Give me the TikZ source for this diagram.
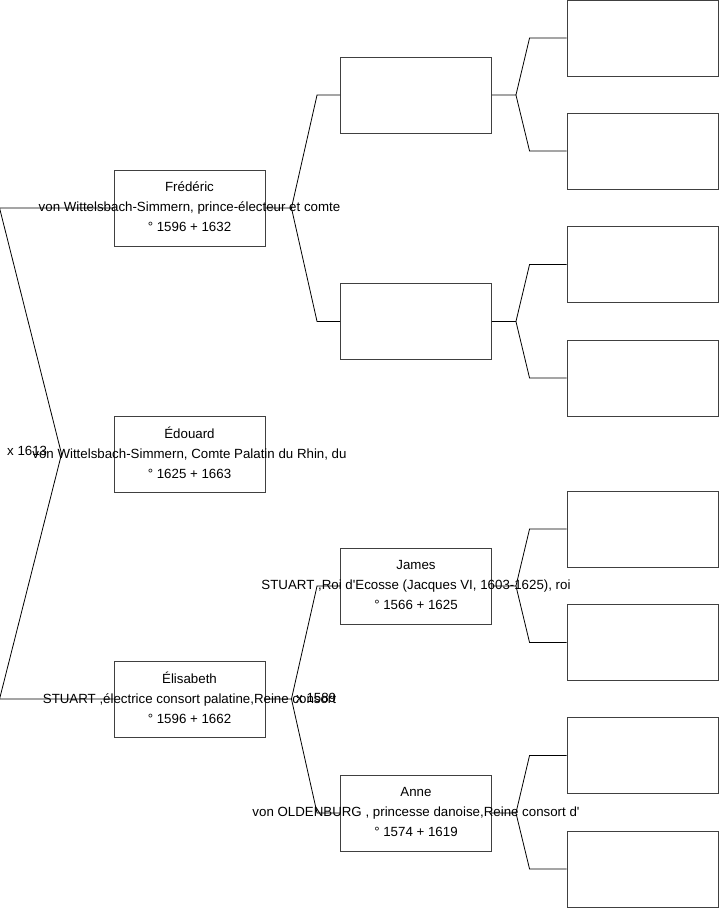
\documentclass[tikz,border=0pt]{standalone}
\usepackage{fontspec}
\setmainfont{Liberation Sans}[Ligatures=TeXOff]
\usetikzlibrary{positioning, calc}

\begin{document}
\begin{tikzpicture}[
		x=1pt, y=-1pt,
		% Styles des cases
		box/.style={draw=black!75, line width=0.9pt, rectangle, minimum width=151pt, minimum height=76pt, inner sep=0pt},
		info/.style={align=center, inner sep=0pt, font=\fontsize{13.3}{20}\selectfont},
		mariage/.style={anchor=west, inner sep=0pt, font=\fontsize{13.3}{15}\selectfont},
		link/.style={draw, line width=0.8pt}
		]
		\useasboundingbox (0,0) rectangle (719,908);
		
		% --- CASES (GENERATION 1) ---
		\node [box] (fred) at (189.5,208) {};
		\node [box] (edouard) at (189.5,454) {};
		\node [box] (elisabeth) at (189.5,699) {};
		
		% --- CASES (GENERATION 2) ---
		\node [box] (fredFa) at (416,95) {};
		\node [box] (fredMo) at (416,321.5) {};
		\node [box] (james) at (416,586) {};
		\node [box] (anne) at (416,813) {};
		
		% --- CASES (GENERATION 3) ---
		\node [box] (fredFaFa) at (642.5,38) {};
		\node [box] (fredFaMo) at (642.5,151) {};
		\node [box] (fredMoFa) at (642.5,264.5) {};
		\node [box] (fredMoMo) at (642.5,378) {};
		\node [box] (jamesFa) at (642.5,529) {};
		\node [box] (jamesMo) at (642.5,642.5) {};
		\node [box] (anneFa) at (642.5,755.5) {};
		\node [box] (anneMo) at (642.5,869) {};
		
		% --- LIENS ---
		
		% Parents d'Edouard
		\draw [link] (fred.west) -- ++(-114,0) -- ($(edouard.west)+(-52,0)$) -- ($(elisabeth.west)+(-114,0)$) -- (elisabeth.west);
		
		% Parents de Frederic
		\draw [link] (fred.east) -- ++(26,0) coordinate (fredFork) -- ($(fredFa.west)+(-23,0)$) -- (fredFa.west);
		\draw [link] (fredFork) -- ($(fredMo.west)+(-23,0)$) -- (fredMo.west);
		
		% Parents d'Elisabeth
		\draw [link] (elisabeth.east) -- ++(26,0) coordinate (elisFork) -- ($(james.west)+(-23,0)$) -- (james.west);
		\draw [link] (elisFork) -- ($(anne.west)+(-23,0)$) -- (anne.west);
		
		% Generation 3
		\draw [link] (fredFa.east) -- ++(24,0) coordinate (f1) -- ($(fredFaFa.west)+(-37,0)$) -- (fredFaFa.west);
		\draw [link] (f1) -- ($(fredFaMo.west)+(-37,0)$) -- (fredFaMo.west);
		\draw [link] (fredMo.east) -- ++(24,0) coordinate (f2) -- ($(fredMoFa.west)+(-37,0)$) -- (fredMoFa.west);
		\draw [link] (f2) -- ($(fredMoMo.west)+(-37,0)$) -- (fredMoMo.west);
		\draw [link] (james.east) -- ++(24,0) coordinate (f3) -- ($(jamesFa.west)+(-37,0)$) -- (jamesFa.west);
		\draw [link] (f3) -- ($(jamesMo.west)+(-37,0)$) -- (jamesMo.west);
		\draw [link] (anne.east) -- ++(24,0) coordinate (f4) -- ($(anneFa.west)+(-37,0)$) -- (anneFa.west);
		\draw [link] (f4) -- ($(anneMo.west)+(-37,0)$) -- (anneMo.west);
		
		% --- TEXTES ---
		\node [info] (fredText) at ($(fred)+(0,-1)$) {Frédéric\\von Wittelsbach-Simmern, prince-électeur et comte\\° 1596 + 1632};
		\node [info] (edouardText) at ($(edouard)+(0,-1)$) {Édouard\\von Wittelsbach-Simmern, Comte Palatin du Rhin, du\\° 1625 + 1663};
		\node [info] (elisabethText) at ($(elisabeth)+(0,-1)$) {Élisabeth\\STUART ,électrice consort palatine,Reine consort\\° 1596 + 1662};
		\node [info] (jamesText) at ($(james)+(0,-1)$) {James\\STUART ,Roi d'Ecosse (Jacques VI, 1603-1625), roi\\° 1566 + 1625};
		\node [info] (anneText) at ($(anne)+(0,-1)$) {Anne\\von OLDENBURG , princesse danoise,Reine consort d'\\° 1574 + 1619};
		
		% Mariages
		\node [mariage] (m1613) at (7,451) {x 1613};
		\node [mariage] (m1589) at (296,698) {x 1589};
		
	\end{tikzpicture}
\end{document}
